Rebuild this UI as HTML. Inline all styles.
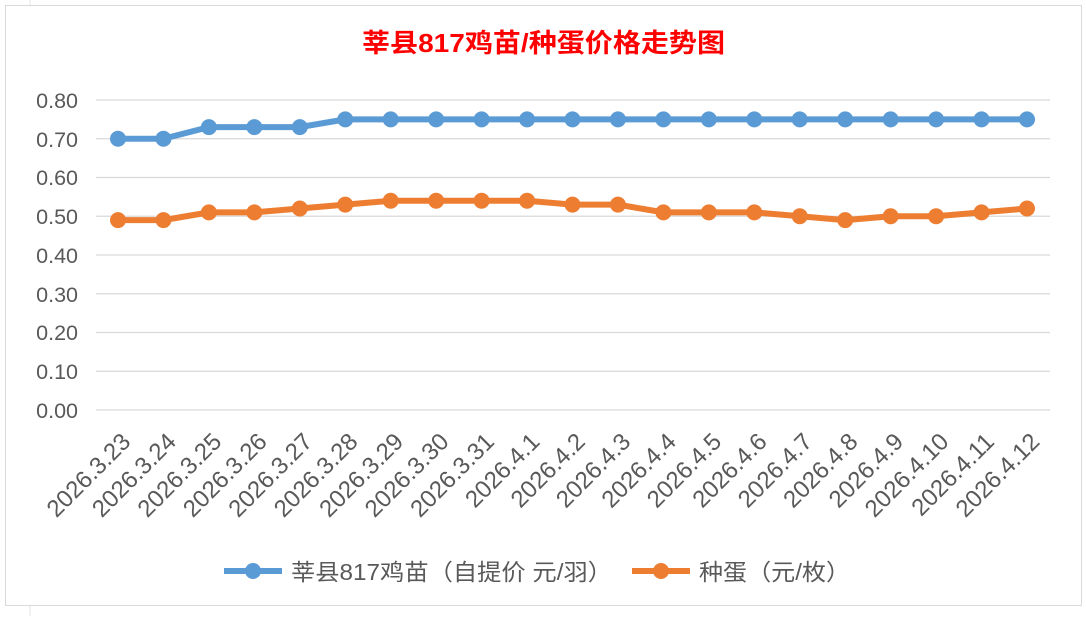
<!DOCTYPE html>
<html><head><meta charset="utf-8"><style>
body{margin:0;background:#fff;width:1086px;height:616px;overflow:hidden}
</style></head><body>
<svg width="1086" height="616" xmlns="http://www.w3.org/2000/svg" font-family="Liberation Sans, Noto Sans CJK SC, sans-serif">
<line x1="30" y1="0" x2="30" y2="616" stroke="#e6e6e6"/>
<rect x="5.5" y="5.5" width="1076" height="600" fill="#fff" stroke="#d9d9d9"/>
<text x="362" y="52" textLength="363" lengthAdjust="spacingAndGlyphs" font-size="26" font-weight="bold" fill="#ff0000">莘县817鸡苗/种蛋价格走势图</text>
<g stroke="#d9d9d9" stroke-width="1.3">
<line x1="96" x2="1050" y1="100" y2="100"/><line x1="96" x2="1050" y1="138.75" y2="138.75"/>
<line x1="96" x2="1050" y1="177.5" y2="177.5"/><line x1="96" x2="1050" y1="216.25" y2="216.25"/>
<line x1="96" x2="1050" y1="255" y2="255"/><line x1="96" x2="1050" y1="293.75" y2="293.75"/>
<line x1="96" x2="1050" y1="332.5" y2="332.5"/><line x1="96" x2="1050" y1="371.25" y2="371.25"/>
<line x1="96" x2="1050" y1="410" y2="410"/>
</g>
<g font-size="21.5" fill="#595959" text-anchor="end">
<text x="78" y="108">0.80</text><text x="78" y="147">0.70</text><text x="78" y="185">0.60</text>
<text x="78" y="224">0.50</text><text x="78" y="263">0.40</text><text x="78" y="302">0.30</text>
<text x="78" y="340">0.20</text><text x="78" y="379">0.10</text><text x="78" y="418">0.00</text>
</g>
<g id="lbl" font-size="24" fill="#595959" text-anchor="end"></g>
<polyline id="b" fill="none" stroke="#5b9bd5" stroke-width="6" stroke-linejoin="round"/>
<polyline id="o" fill="none" stroke="#ed7d31" stroke-width="6" stroke-linejoin="round"/>
<g id="dots"></g>
<line x1="224" y1="571" x2="282" y2="571" stroke="#5b9bd5" stroke-width="6"/><circle cx="253" cy="571" r="8" fill="#5b9bd5"/>
<text x="291" y="580" textLength="321" lengthAdjust="spacingAndGlyphs" font-size="23" fill="#595959">莘县817鸡苗（自提价 元/羽）</text>
<line x1="632" y1="571" x2="690" y2="571" stroke="#ed7d31" stroke-width="6"/><circle cx="661" cy="571" r="8" fill="#ed7d31"/>
<text x="699" y="580" textLength="151" lengthAdjust="spacingAndGlyphs" font-size="23" fill="#595959">种蛋（元/枚）</text>
</svg>
<script>
var B=[.70,.70,.73,.73,.73,.75,.75,.75,.75,.75,.75,.75,.75,.75,.75,.75,.75,.75,.75,.75,.75];
var O=[.49,.49,.51,.51,.52,.53,.54,.54,.54,.54,.53,.53,.51,.51,.51,.50,.49,.50,.50,.51,.52];
var L=["2026.3.23","2026.3.24","2026.3.25","2026.3.26","2026.3.27","2026.3.28","2026.3.29","2026.3.30","2026.3.31","2026.4.1","2026.4.2","2026.4.3","2026.4.4","2026.4.5","2026.4.6","2026.4.7","2026.4.8","2026.4.9","2026.4.10","2026.4.11","2026.4.12"];
var ns="http://www.w3.org/2000/svg";
function X(i){return 118+i*45.45}function Y(v){return 410-v*387.5}
document.getElementById('b').setAttribute('points',B.map((v,i)=>X(i)+','+Y(v)).join(' '));
document.getElementById('o').setAttribute('points',O.map((v,i)=>X(i)+','+Y(v)).join(' '));
var d=document.getElementById('dots'),g=document.getElementById('lbl');
for(var i=0;i<21;i++){
[[B,'#5b9bd5'],[O,'#ed7d31']].forEach(function(s){var c=document.createElementNS(ns,'circle');c.setAttribute('cx',X(i));c.setAttribute('cy',Y(s[0][i]));c.setAttribute('r',8);c.setAttribute('fill',s[1]);d.appendChild(c);});
var t=document.createElementNS(ns,'text');var x=X(i)+14,y=443;t.setAttribute('x',x);t.setAttribute('y',y);t.setAttribute('transform','rotate(-45 '+x+' '+y+')');t.textContent=L[i];g.appendChild(t);}
</script>
</body></html>
